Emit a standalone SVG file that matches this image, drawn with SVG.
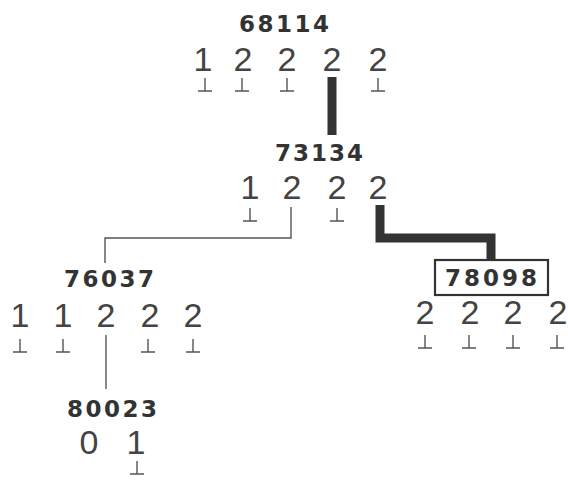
<svg xmlns="http://www.w3.org/2000/svg" xmlns:xlink="http://www.w3.org/1999/xlink" width="568" height="480" viewBox="0 0 568 480">
  <style>
    .lbl { font-family: "DejaVu Sans", "Liberation Sans", sans-serif; font-weight: bold; font-size: 23px; fill: #333; text-anchor: middle; }
    .dig { font-family: "Liberation Sans", Arial, sans-serif; font-size: 34px; fill: #444; text-anchor: middle; }
    .thin { fill: none; stroke: #555; stroke-width: 1.4; }
    .thick { fill: none; stroke: #333; stroke-width: 9; stroke-linejoin: miter; }
    .box { fill: #fff; stroke: #333; stroke-width: 2.2; }
    .gnd { fill: none; stroke: #555; stroke-width: 1.4; }
  </style>
  <defs>
    <!-- terminal mark: short stem with a bar underneath -->
    <path id="term" class="gnd" d="M0,0 V13 M-7,13 H7"/>
  </defs>

  <rect width="568" height="480" fill="#fff"/>

  <g id="connectors">
    <path class="thick" d="M332,77 V135"/>
    <path class="thin" d="M291,207 V238 H105 V263"/>
    <path class="thick" d="M380,205 V238 H491 V259"/>
    <path class="thin" d="M106,335 V389"/>
  </g>

  <g id="node-68114">
    <text class="lbl" x="284" y="32" textLength="90" lengthAdjust="spacing">68114</text>
    <text class="dig" x="203" y="71">1</text>
    <text class="dig" x="243" y="71">2</text>
    <text class="dig" x="287" y="71">2</text>
    <text class="dig" x="332" y="71">2</text>
    <text class="dig" x="378" y="71">2</text>
    <use xlink:href="#term" x="205" y="78"/>
    <use xlink:href="#term" x="242" y="78"/>
    <use xlink:href="#term" x="287" y="78"/>
    <use xlink:href="#term" x="378" y="78"/>
  </g>

  <g id="node-73134">
    <text class="lbl" x="319" y="161" textLength="88" lengthAdjust="spacing">73134</text>
    <text class="dig" x="250" y="199">1</text>
    <text class="dig" x="292" y="199">2</text>
    <text class="dig" x="337" y="199">2</text>
    <text class="dig" x="378" y="199">2</text>
    <use xlink:href="#term" x="250" y="208"/>
    <use xlink:href="#term" x="337" y="208"/>
  </g>

  <g id="node-76037">
    <text class="lbl" x="109" y="287" textLength="90" lengthAdjust="spacing">76037</text>
    <text class="dig" x="20" y="327">1</text>
    <text class="dig" x="63" y="327">1</text>
    <text class="dig" x="106" y="327">2</text>
    <text class="dig" x="150" y="327">2</text>
    <text class="dig" x="193" y="327">2</text>
    <use xlink:href="#term" x="20" y="339"/>
    <use xlink:href="#term" x="63" y="339"/>
    <use xlink:href="#term" x="148" y="339"/>
    <use xlink:href="#term" x="193" y="339"/>
  </g>

  <g id="node-78098">
    <rect class="box" x="435" y="260" width="113" height="35"/>
    <text class="lbl" x="491" y="286" textLength="92" lengthAdjust="spacing">78098</text>
    <text class="dig" x="425" y="324">2</text>
    <text class="dig" x="470" y="324">2</text>
    <text class="dig" x="513" y="324">2</text>
    <text class="dig" x="558" y="324">2</text>
    <use xlink:href="#term" x="425" y="335"/>
    <use xlink:href="#term" x="469" y="335"/>
    <use xlink:href="#term" x="513" y="335"/>
    <use xlink:href="#term" x="557" y="335"/>
  </g>

  <g id="node-80023">
    <text class="lbl" x="112" y="417" textLength="90" lengthAdjust="spacing">80023</text>
    <text class="dig" x="89" y="454">0</text>
    <text class="dig" x="136" y="454">1</text>
    <use xlink:href="#term" x="137" y="461"/>
  </g>
</svg>
